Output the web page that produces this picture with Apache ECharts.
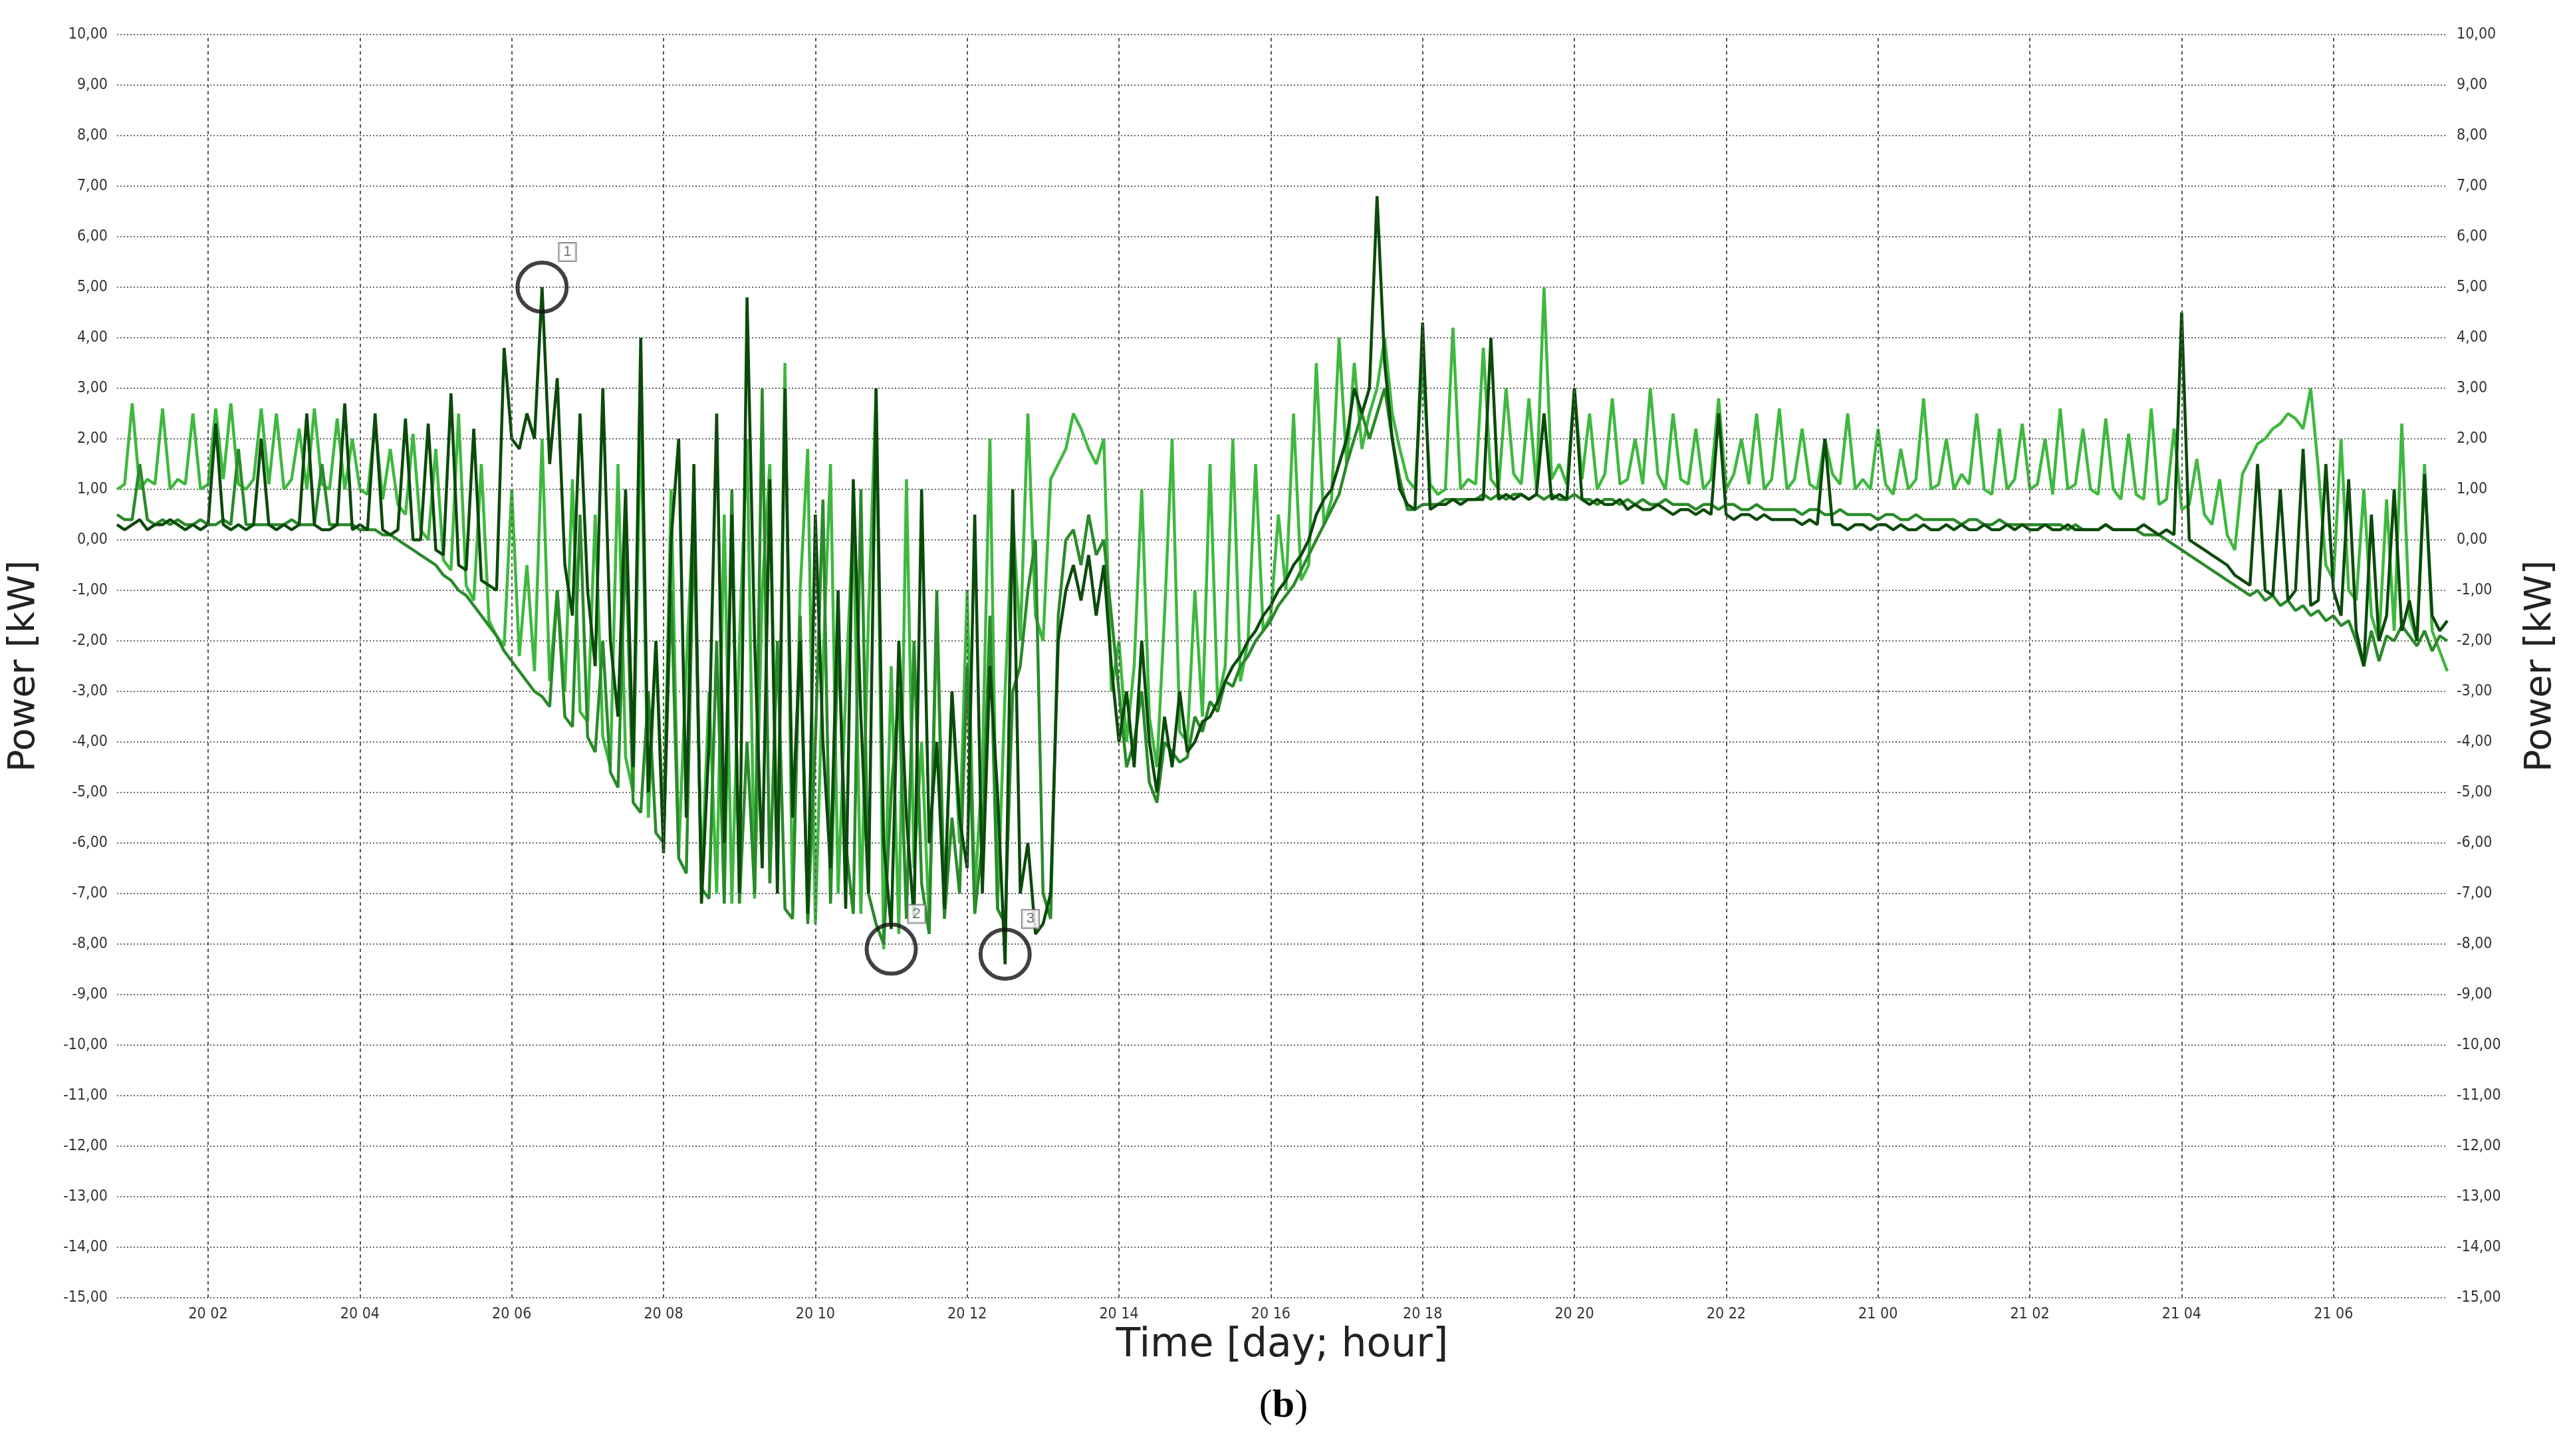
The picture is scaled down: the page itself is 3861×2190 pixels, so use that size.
<!DOCTYPE html>
<html><head><meta charset="utf-8">
<script src="https://cdn.jsdelivr.net/npm/echarts@6/dist/echarts.min.js"></script>
<style>html,body{margin:0;padding:0;background:#fff}#c{width:3861px;height:2190px}</style>
</head><body><div id="c"></div>
<script>
// hours since day 20 00:00, sampled every 0.1 h from 0.8 to 31.5
const startHour = 0.8, stepHour = 0.1;
const xTickHours = [2,4,6,8,10,12,14,16,18,20,22,24,26,28,30];
const lightGreen = [
1.0,1.1,2.7,1.0,1.2,1.1,2.6,1.0,1.2,1.1,
2.5,1.0,1.1,2.6,1.2,2.7,1.1,1.0,1.2,2.6,
1.1,2.5,1.0,1.2,2.2,1.0,2.6,1.1,1.0,2.4,
1.0,2.0,1.0,0.9,2.3,0.8,1.8,0.7,0.5,2.1,
0.2,0.0,1.8,-0.4,-0.6,2.5,-0.9,-1.2,1.5,-1.6,
-1.9,-2.1,1.0,-2.3,-0.5,-2.6,2.0,-2.8,-1.0,-3.0,
1.2,-3.4,-3.6,0.5,-3.9,-4.5,1.5,-4.3,-5.0,2.6,
-5.5,-2.0,-5.8,1.0,-6.2,-2.5,0.8,-6.8,-3.0,-7.0,
0.5,-7.2,-2.0,2.0,-7.1,-1.0,1.5,-6.5,3.5,-7.3,
-1.0,1.8,-7.6,-2.5,1.5,-7.0,-3.0,0.5,-7.4,-1.5,
3.0,-8.1,-2.5,-7.8,1.2,-6.5,-4.0,-7.6,-1.5,-7.2,
-3.0,-6.0,-1.0,-7.0,-4.5,2.0,-7.3,-3.0,0.5,-2.0,
2.5,-1.5,-2.0,1.2,1.5,1.8,2.5,2.2,1.8,1.5,
2.0,-3.0,-2.0,-4.0,-2.5,1.0,-3.5,-4.5,-1.5,2.0,
-3.8,-4.0,-1.0,-3.5,1.5,-3.2,-2.5,2.0,-2.8,-2.0,
1.5,-1.8,-1.5,0.5,-1.0,2.5,-0.8,-0.5,3.5,0.3,
0.8,4.0,1.5,3.5,1.8,2.5,3.0,4.0,2.5,1.8,
1.2,1.0,3.5,1.1,0.9,1.0,4.2,1.0,1.2,1.1,
3.8,1.2,1.0,3.0,1.3,1.1,2.8,1.0,5.0,1.2,
1.5,1.1,3.0,1.2,2.5,1.0,1.3,2.8,1.1,1.2,
2.0,1.1,3.0,1.3,1.0,2.5,1.2,1.1,2.2,1.0,
1.2,2.8,1.0,1.3,2.0,1.1,2.5,1.0,1.2,2.6,
1.0,1.2,2.2,1.1,1.0,2.0,1.3,1.1,2.5,1.0,
1.2,1.0,2.2,1.1,0.9,1.8,1.0,1.2,2.8,1.0,
1.1,2.0,1.0,1.3,1.1,2.5,1.0,0.9,2.2,1.0,
1.2,2.3,1.0,1.1,2.0,0.9,2.6,1.0,1.1,2.2,
1.0,0.9,2.4,1.0,0.8,2.1,0.9,0.8,2.6,0.7,
0.8,2.2,0.6,0.7,1.6,0.5,0.3,1.2,0.1,-0.2,
1.3,1.6,1.9,2.0,2.2,2.3,2.5,2.4,2.2,3.0,
1.4,-0.5,-0.8,2.0,-1.0,-1.2,1.0,-1.5,-2.0,0.8,
-1.8,2.3,-1.5,-2.0,1.5,-1.8,-2.2,-2.6];
const midGreen = [
0.5,0.4,0.4,1.5,0.4,0.3,0.4,0.3,0.4,0.3,
0.3,0.4,0.3,0.3,0.4,0.3,1.8,0.3,0.3,0.3,
0.3,0.3,0.3,0.4,0.3,0.3,0.3,1.5,0.3,0.3,
0.3,0.3,0.2,0.2,0.2,0.1,0.1,0.0,-0.1,-0.2,
-0.3,-0.4,-0.5,-0.7,-0.8,-1.0,-1.1,-1.3,-1.5,-1.7,
-1.9,-2.2,-2.4,-2.6,-2.8,-3.0,-3.1,-3.3,-1.0,-3.5,
-3.7,0.5,-3.9,-4.2,-2.0,-4.6,-4.9,0.0,-5.2,-5.4,
-3.0,-5.8,-6.0,-1.0,-6.3,-6.6,0.5,-6.9,-7.1,-2.0,
-7.2,1.0,-7.2,-4.0,-7.0,3.0,-6.8,-2.0,-7.3,-7.5,
-1.5,-7.6,-4.0,0.8,-7.2,-2.0,-6.0,-7.4,1.0,-7.0,
-7.6,-8.0,-5.0,-3.0,-7.5,-2.0,-6.8,-7.8,-1.0,-7.5,
-5.5,-7.0,-2.5,-7.4,-6.0,-1.5,-7.3,-7.6,-3.0,-2.5,
-1.0,0.0,-7.0,-7.5,-1.5,0.0,0.2,-0.5,0.5,-0.3,
0.0,-1.5,-3.0,-4.5,-4.0,-3.0,-4.8,-5.2,-4.0,-4.2,
-4.4,-4.3,-3.5,-3.8,-3.2,-3.4,-2.8,-2.9,-2.5,-2.3,
-2.0,-1.8,-1.6,-1.3,-1.1,-0.9,-0.6,-0.3,0.0,0.3,
0.6,0.9,1.5,2.0,2.5,2.0,2.5,3.0,2.0,1.2,
0.6,0.6,0.7,0.7,0.7,0.8,0.8,0.8,0.8,0.8,
0.9,0.8,0.9,0.8,0.9,0.9,0.8,0.9,0.8,0.9,
0.8,0.8,0.9,0.8,0.8,0.7,0.8,0.8,0.7,0.8,
0.7,0.8,0.7,0.7,0.8,0.7,0.7,0.7,0.6,0.7,
0.7,0.6,0.7,0.7,0.6,0.6,0.7,0.6,0.6,0.6,
0.6,0.6,0.5,0.6,0.6,0.5,0.5,0.6,0.5,0.5,
0.5,0.5,0.4,0.5,0.5,0.4,0.4,0.5,0.4,0.4,
0.4,0.4,0.4,0.3,0.4,0.4,0.3,0.3,0.4,0.3,
0.3,0.3,0.3,0.3,0.3,0.3,0.3,0.2,0.3,0.2,
0.2,0.2,0.3,0.2,0.2,0.2,0.2,0.1,0.1,0.1,
0.0,-0.1,-0.2,-0.3,-0.4,-0.5,-0.6,-0.7,-0.8,-0.9,
-1.0,-1.1,-1.0,-1.2,-1.1,-1.3,-1.2,-1.4,-1.3,-1.5,
-1.4,-1.6,-1.5,-1.7,-1.6,-2.0,-2.5,-1.8,-2.4,-1.9,
-2.0,-1.7,-1.9,-2.1,-1.8,-2.2,-1.9,-2.0];
const darkGreen = [
0.3,0.2,0.3,0.4,0.2,0.3,0.3,0.4,0.3,0.2,
0.3,0.2,0.3,2.3,0.3,0.2,0.3,0.2,0.3,2.0,
0.3,0.2,0.3,0.2,0.3,2.5,0.3,0.2,0.2,0.3,
2.7,0.2,0.3,0.2,2.5,0.2,0.1,0.2,2.4,0.0,
0.0,2.3,-0.2,-0.3,2.9,-0.5,-0.6,2.2,-0.8,-0.9,
-1.0,3.8,2.0,1.8,2.5,2.0,5.0,1.5,3.2,-0.5,
-1.5,2.5,-1.0,-2.5,3.0,-2.0,-3.5,1.0,-4.5,4.0,
-5.0,-2.0,-6.2,0.0,2.0,-5.5,1.5,-7.2,-4.0,2.5,
-6.0,0.5,-7.0,4.8,-2.0,-6.5,1.2,-7.0,3.0,-5.5,
-2.0,-7.4,0.5,-4.0,-6.5,-1.0,-7.3,1.2,-3.5,-7.0,
3.0,-6.0,-7.7,-2.0,-5.5,-7.5,1.0,-6.0,-4.0,-7.3,
-3.0,-5.5,-6.5,0.5,-7.0,-2.5,-5.0,-8.4,1.0,-7.0,
-6.0,-7.8,-7.6,-7.0,-2.0,-1.0,-0.5,-1.2,-0.3,-1.5,
-0.5,-2.5,-4.0,-3.0,-4.5,-2.0,-4.0,-5.0,-3.5,-4.5,
-3.0,-4.2,-4.0,-3.6,-3.5,-3.2,-2.8,-2.5,-2.3,-2.0,
-1.8,-1.5,-1.3,-1.0,-0.8,-0.5,-0.3,0.0,0.5,0.8,
1.0,1.5,2.0,3.0,2.5,3.0,6.8,3.5,2.0,1.0,
0.7,0.6,4.3,0.6,0.7,0.7,0.8,0.7,0.8,0.8,
0.8,4.0,0.8,0.9,0.8,0.9,0.8,0.9,2.5,0.8,
0.9,0.8,3.0,0.8,0.7,0.8,0.7,0.7,0.8,0.6,
0.7,0.6,0.6,0.7,0.6,0.5,0.6,0.6,0.5,0.6,
0.5,2.5,0.5,0.4,0.5,0.5,0.4,0.5,0.4,0.4,
0.4,0.4,0.3,0.4,0.3,2.0,0.3,0.3,0.2,0.3,
0.3,0.2,0.3,0.3,0.2,0.3,0.2,0.2,0.3,0.2,
0.2,0.3,0.2,0.3,0.2,0.2,0.3,0.2,0.2,0.3,
0.2,0.3,0.2,0.2,0.3,0.2,0.2,0.3,0.2,0.2,
0.2,0.2,0.3,0.2,0.2,0.2,0.2,0.3,0.2,0.1,
0.2,0.1,4.5,0.0,-0.1,-0.2,-0.3,-0.4,-0.5,-0.7,
-0.8,-0.9,1.5,-1.0,-1.1,1.0,-1.2,-1.0,1.8,-1.3,
-1.2,1.5,-1.0,-1.5,1.2,-1.8,-2.5,0.5,-2.0,-1.5,
1.0,-1.8,-1.2,-2.0,1.3,-1.5,-1.8,-1.6];
const markerHours = [6.4, 11.0, 12.5];
const markerValues = [5.0, -8.1, -8.2];
const markerLabels = ['1', '2', '3'];

const hours = lightGreen.map((_, i) => +(startHour + i * stepHour).toFixed(2));
const pairs = arr => arr.map((v, i) => [hours[i], v]);
const fmtX = h => { const d = 20 + Math.floor(h / 24); const hh = h % 24; return d + ' ' + String(hh).padStart(2, '0'); };
const fmtY = v => v.toFixed(2).replace('.', ',');
const FONT = 'DejaVu Sans Condensed';

const yAxisCommon = {
  type: 'value', min: -15, max: 10, interval: 1,
  axisLine: { show: false }, axisTick: { show: false },
  axisLabel: { formatter: fmtY, fontSize: 23, color: '#333', fontFamily: FONT, margin: 14 },
  name: 'Power [kW]', nameLocation: 'middle', nameGap: 112,
  nameTextStyle: { fontSize: 56, color: '#222', fontFamily: 'DejaVu Sans' }
};

const chart = echarts.init(document.getElementById('c'));
chart.setOption({
  backgroundColor: '#fff',
  animation: false,
  grid: { left: 173, right: 180, top: 52, bottom: 238 },
  xAxis: {
    type: 'value', min: startHour, max: 31.5,
    axisLine: { show: false }, axisTick: { show: false }, splitLine: { show: false },
    axisLabel: { customValues: xTickHours, formatter: fmtX, fontSize: 23, color: '#333', fontFamily: FONT, margin: 14 },
    name: 'Time [day; hour]', nameLocation: 'middle', nameGap: 42,
    nameTextStyle: { fontSize: 60, color: '#222', fontFamily: 'DejaVu Sans' }
  },
  yAxis: [
    Object.assign({}, yAxisCommon, { position: 'left',
      splitLine: { show: true, lineStyle: { color: '#666', type: [2, 3], width: 2 } } }),
    Object.assign({}, yAxisCommon, { position: 'right', splitLine: { show: false } })
  ],
  graphic: [{
    type: 'text', left: 'center', top: 2085,
    style: { rich: { p: { fontSize: 60, fontFamily: 'Liberation Serif', fill: '#000' }, b: { fontSize: 60, fontFamily: 'Liberation Serif', fontWeight: 'bold', fill: '#000' } },
      text: '{p|(}{b|b}{p|)}' }
  }],
  series: [
    { type: 'line', data: pairs(lightGreen), showSymbol: false, lineStyle: { color: '#3fb83f', width: 4.5 }, z: 2,
      markLine: { silent: true, symbol: 'none', label: { show: false },
        lineStyle: { color: '#555', type: [5, 5], width: 2 },
        data: xTickHours.map(h => ({ xAxis: h })) } },
    { type: 'line', data: pairs(midGreen), showSymbol: false, lineStyle: { color: '#2a8a2a', width: 4.5 }, z: 3 },
    { type: 'line', data: pairs(darkGreen), showSymbol: false, lineStyle: { color: '#0b4a0b', width: 4.5 }, z: 4 },
    { type: 'scatter', z: 6, symbol: 'circle', symbolSize: 74,
      itemStyle: { color: 'rgba(0,0,0,0)', borderColor: '#111', borderWidth: 6 },
      data: markerHours.map((h, i) => ({ value: [h, markerValues[i]], name: markerLabels[i] })),
      label: { show: true, formatter: p => p.name, position: [66, -26], fontSize: 22, color: '#555',
        backgroundColor: '#fff', borderColor: '#777', borderWidth: 2, padding: [2, 6] } }
  ]
});
</script></body></html>
